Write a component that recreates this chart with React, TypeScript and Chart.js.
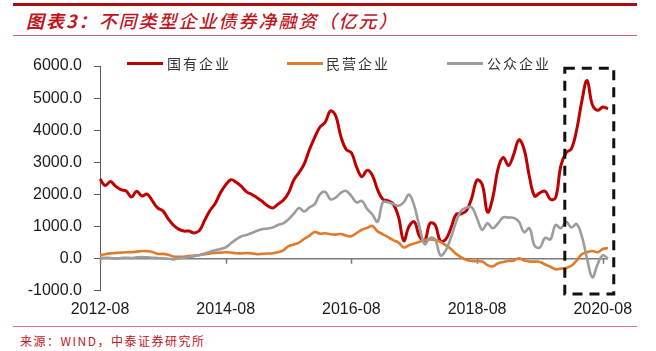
import React, { useEffect, useRef } from "react";
import { Chart, registerables } from "chart.js";

Chart.register(...registerables);

// ---- categories: monthly, 2012-08 .. 2020-09 ----
const START_YEAR = 2012;
const START_MONTH = 8;
const MONTH_COUNT = 98;
const MONTHS: string[] = Array.from({ length: MONTH_COUNT }, (_, i) => {
  const m = START_MONTH - 1 + i;
  const y = START_YEAR + Math.floor(m / 12);
  const mm = (m % 12) + 1;
  return `${y}-${mm < 10 ? "0" + mm : mm}`;
});

const TICK_LABELS = ["2012-08", "2014-08", "2016-08", "2018-08", "2020-08"];

// ---- series (亿元) ----
const SOE = [
  2480, 2280, 2400, 2250, 2150, 2110, 1920, 2100, 1950, 2010,
  1800, 1580, 1490, 1250, 1050, 920, 860, 860, 800, 880,
  1200, 1500, 1720, 2050, 2300, 2460, 2380, 2250, 2080, 2000,
  1900, 1780, 1650, 1580, 1700, 1820, 2050, 2450, 2680, 2950,
  3400, 3780, 4100, 4250, 4600, 4450, 3800, 3400, 3300, 2850,
  2550, 2750, 2600, 2150, 1850, 1800, 1700, 1300, 560, 1000,
  1150, 700, 560, 1100, 1050, 550, 600, 950, 1380, 1400,
  1500, 1900, 2450, 2300, 1450, 1900, 2800, 3150, 2900, 3250,
  3700, 3400, 2550, 1950, 2050, 2100, 1850, 1900, 2900, 3300,
  3420, 4000, 4900, 5550, 4800, 4620, 4720, 4670,
];

const PRIVATE = [
  110, 140, 165, 180, 190, 200, 200, 220, 240, 235,
  210, 150, 150, 120, 70, 60, 60, 80, 100, 115,
  140, 165, 180, 190, 200, 190, 170, 165, 175, 165,
  140, 150, 160, 170, 200, 260, 390, 440, 500, 620,
  720, 830, 780, 790, 760, 750, 770, 720, 700, 800,
  900, 960, 1020, 850, 760, 670, 580, 500, 350, 420,
  470, 530, 580, 600, 580, 520, 420, 300, 150, 40,
  -40, -70, -80, -90, -200, -240, -140, -100, -70, -60,
  10, -60, -90, -90, -100, -180, -250, -330, -310, -290,
  -220, -60, 140, 200, 240, 200, 300, 330,
];

const PUBLIC = [
  20, 30, 20, 10, 20, 30, 20, 40, 50, 40,
  30, 20, 10, 0, -20, 10, 30, 50, 80, 110,
  160, 220, 260, 300, 350, 480, 600, 700, 740, 800,
  870, 920, 940, 970, 1050, 1100, 1230, 1400, 1580, 1470,
  1600, 1700, 2000, 2080, 1850, 1900, 2050, 2110, 1950, 1750,
  1800, 1550, 1380, 1150, 1750, 1760, 1700, 1650, 1750, 2000,
  1650, 1000, 450, 650, 600, 100, 250, 650, 1150, 1500,
  1590, 1600, 1250, 900, 1100, 950, 1100, 1290, 1280, 1270,
  1150, 820, 950, 400, 350, 650, 600, 1050, 950, 1150,
  970, 1080, 700, 0, -580, -180, 100, 0,
];

const SERIES_NAMES = ["国有企业", "民营企业", "公众企业"];
const SERIES_COLORS = ["#C00000", "#E07A2C", "#9C9C9C"];

// highlighted window (dashed box), in axis units
const HIGHLIGHT_FROM = 88.75;
const HIGHLIGHT_TO = 98.1;
const HIGHLIGHT_TOP = 5930;
const HIGHLIGHT_BOTTOM = -1100;

const Y_MIN = -1000;
const Y_MAX = 6000;
const Y_STEP = 1000;

const overlayPlugin = {
  id: "overlay",
  beforeDatasetsDraw(chart: any) {
    const { ctx, chartArea, scales } = chart;
    const x = scales.x;
    const y = scales.y;
    const y0 = y.getPixelForValue(0);
    ctx.save();
    ctx.strokeStyle = "#7a7a7a";
    ctx.lineWidth = 1.5;
    ctx.beginPath();
    ctx.moveTo(chartArea.left, y0);
    ctx.lineTo(chartArea.right, y0);
    TICK_LABELS.forEach((lbl) => {
      const idx = MONTHS.indexOf(lbl);
      if (idx < 0) return;
      const px = Math.round(x.getPixelForValue(idx)) + 0.5;
      ctx.moveTo(px, y0);
      ctx.lineTo(px, y0 + 5);
    });
    ctx.stroke();
    ctx.restore();
  },
  afterDatasetsDraw(chart: any) {
    const { ctx, scales } = chart;
    const x = scales.x;
    const y = scales.y;
    const l = x.getPixelForValue(HIGHLIGHT_FROM);
    const r = x.getPixelForValue(HIGHLIGHT_TO);
    const t = y.getPixelForValue(HIGHLIGHT_TOP);
    const b = y.getPixelForValue(HIGHLIGHT_BOTTOM);
    ctx.save();
    ctx.strokeStyle = "#111111";
    ctx.lineWidth = 3;
    ctx.setLineDash([10, 7]);
    ctx.strokeRect(l, t, r - l, b - t);
    ctx.restore();
  },
};

const LEGEND_POS = [
  { line: 127, text: 167 },
  { line: 287, text: 326 },
  { line: 447, text: 487 },
];

export default function App() {
  const ref = useRef<HTMLCanvasElement | null>(null);

  useEffect(() => {
    if (!ref.current) return;
    const seriesData = [SOE, PRIVATE, PUBLIC];
    const chart = new Chart(ref.current, {
      type: "line",
      data: {
        labels: MONTHS,
        datasets: seriesData.map((d, i) => ({
          label: SERIES_NAMES[i],
          data: d,
          borderColor: SERIES_COLORS[i],
          backgroundColor: SERIES_COLORS[i],
          borderWidth: i === 0 ? 3 : 2.6,
          pointRadius: 0,
          tension: 0.4,
          fill: false,
          order: 3 - i,
        })),
      },
      options: {
        responsive: false,
        animation: false,
        devicePixelRatio: 1,
        layout: { padding: { top: 26, right: 48, left: 0, bottom: 0 } },
        plugins: {
          legend: { display: false },
          tooltip: { enabled: false },
        },
        scales: {
          x: {
            type: "category",
            offset: false,
            border: { display: false },
            grid: { display: false, drawTicks: false },
            ticks: {
              autoSkip: false,
              maxRotation: 0,
              padding: 9,
              color: "#1a1a1a",
              font: { family: "'Liberation Sans', Arial, sans-serif", size: 16 },
              callback: (_v: any, idx: number) =>
                TICK_LABELS.includes(MONTHS[idx]) ? MONTHS[idx] : null,
            },
          },
          y: {
            min: Y_MIN,
            max: Y_MAX,
            afterFit: (scale: any) => {
              scale.width = 100;
            },
            border: { display: true, color: "#5a5a5a", width: 1 },
            grid: {
              display: true,
              drawOnChartArea: false,
              drawTicks: true,
              tickLength: 6,
              color: "#5a5a5a",
            },
            ticks: {
              stepSize: Y_STEP,
              padding: 12,
              color: "#1a1a1a",
              font: { family: "'Liberation Sans', Arial, sans-serif", size: 16 },
              callback: (v: any) => Number(v).toFixed(1),
            },
          },
        },
      },
      plugins: [overlayPlugin],
    });
    return () => chart.destroy();
  }, []);

  const cjk = "'Noto Sans CJK SC', 'Noto Sans', sans-serif";

  return (
    <div
      style={{
        position: "absolute",
        left: 0,
        top: 0,
        width: 656,
        height: 351,
        background: "#ffffff",
        overflow: "hidden",
      }}
    >
      <div style={{ position: "absolute", left: 13, top: 3, width: 624, height: 3, background: "#B00A12" }} />
      <div
        style={{
          position: "absolute",
          left: 26,
          top: 9,
          height: 22,
          lineHeight: "22px",
          fontFamily: cjk,
          fontSize: 18,
          fontStyle: "italic",
          color: "#C0161E",
          letterSpacing: 2,
          whiteSpace: "nowrap",
        }}
      >
        <span style={{ fontWeight: 700 }}>图表3：</span>
        <span style={{ fontWeight: 500 }}>不同类型企业债券净融资（亿元）</span>
      </div>
      <div style={{ position: "absolute", left: 13, top: 35, width: 624, height: 1, background: "#C8676B" }} />

      <canvas
        ref={ref}
        width={656}
        height={288}
        style={{ position: "absolute", left: 0, top: 40, width: 656, height: 288 }}
      />

      {SERIES_NAMES.map((name, i) => (
        <React.Fragment key={name}>
          <div
            style={{
              position: "absolute",
              left: LEGEND_POS[i].line,
              top: 62,
              width: 36,
              height: 3,
              background: SERIES_COLORS[i],
            }}
          />
          <div
            style={{
              position: "absolute",
              left: LEGEND_POS[i].text,
              top: 55,
              height: 16,
              lineHeight: "16px",
              fontFamily: cjk,
              fontSize: 14,
              letterSpacing: 2,
              color: "#333333",
              whiteSpace: "nowrap",
            }}
          >
            {name}
          </div>
        </React.Fragment>
      ))}

      <div style={{ position: "absolute", left: 13, top: 326, width: 624, height: 1, background: "#D27A7E" }} />
      <div
        style={{
          position: "absolute",
          left: 20,
          top: 333,
          height: 16,
          lineHeight: "16px",
          fontFamily: cjk,
          fontSize: 12,
          letterSpacing: 1.5,
          color: "#C0161E",
          whiteSpace: "nowrap",
        }}
      >
        来源：WIND，中泰证券研究所
      </div>
    </div>
  );
}
